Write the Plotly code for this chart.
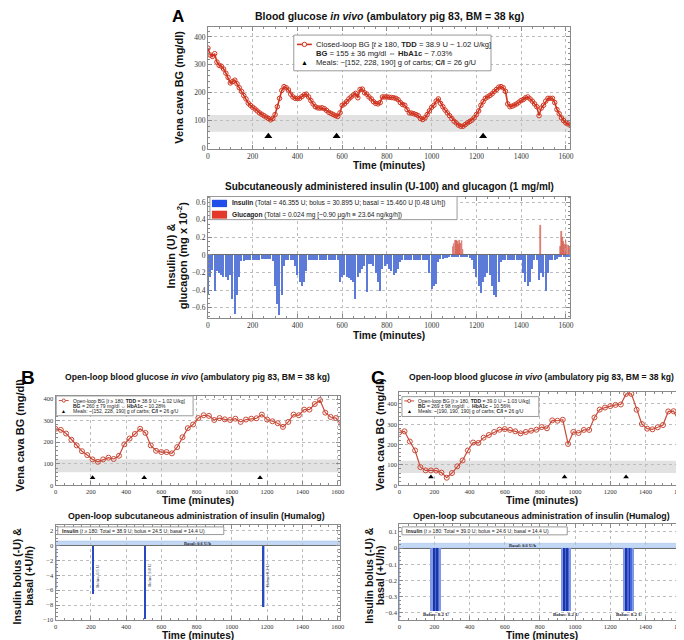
import plotly.graph_objects as go

W, H = 684, 640
def X(px): return px / W
def Y(py): return 1 - py / H

# ---------------- data ----------------
# Panel A: closed-loop BG (mg/dl), 10-min samples
t_A = list(range(0, 1621, 10))
bg_A = [360, 335, 330, 340, 310, 298, 295, 285, 270, 255, 235, 240, 245, 232, 218, 205,
        190, 178, 163, 155, 148, 142, 135, 128, 123, 118, 113, 108, 103, 108, 122, 150,
        180, 208, 222, 218, 210, 195, 185, 180, 180, 180, 186, 193, 195, 185, 172, 160,
        150, 146, 145, 146, 143, 137, 130, 126, 122, 118, 115, 128, 155, 160, 168, 178,
        185, 192, 198, 182, 212, 213, 200, 195, 185, 178, 168, 162, 160, 165, 185, 185,
        185, 184, 183, 182, 180, 175, 165, 158, 155, 140, 128, 127, 125, 122, 118, 108,
        104, 110, 122, 135, 148, 155, 170, 178, 162, 150, 138, 128, 118, 108, 98, 92,
        84, 80, 80, 86, 92, 97, 102, 110, 122, 135, 155, 168, 180, 185, 190, 196,
        205, 212, 220, 222, 218, 205, 160, 150, 152, 156, 160, 166, 172, 176, 182, 185,
        178, 170, 160, 150, 118, 145, 155, 170, 180, 180, 180, 165, 140, 125, 110, 100,
        92, 88, 83]
meals_A = [270, 575, 1230]

# Panel A: insulin (U, negative) per 10-min bin and glucagon pulses
ins_A = [-0.45, -0.25, -0.17, -0.40, -0.18, -0.20, -0.22, -0.24, -0.25, -0.28, -0.22, -0.50,
         -0.67, -0.45, -0.25, -0.06,
         -0.06, -0.05, -0.05, -0.05, -0.05, -0.05, -0.05, -0.05, -0.04, -0.04, -0.04, -0.04,
         -0.04, -0.06, -0.35, -0.55, -0.68, -0.45, -0.12, -0.05, -0.05, -0.05, -0.05, -0.12,
         -0.22, -0.30, -0.35, -0.30, -0.18, -0.05,
         -0.05, -0.05, -0.05, -0.05, -0.05, -0.05, -0.05, -0.05, -0.05, -0.05, -0.05, -0.05, -0.05,
         -0.30, -0.25, -0.22, -0.25, -0.26, -0.28, -0.30, -0.50, -0.25, -0.20, -0.15, -0.12,
         -0.42, -0.10, -0.10, -0.12, -0.20, -0.30, -0.40, -0.15, -0.12, -0.10, -0.15, -0.18,
         -0.22, -0.20, -0.15, -0.08,
         -0.05, -0.05, -0.05, -0.05, -0.05, -0.05, -0.05, -0.05, -0.05, -0.05, -0.05, -0.05,
         -0.20, -0.38, -0.35, -0.33, -0.08, -0.04, -0.04, -0.03, -0.03, -0.02,
         -0.01, -0.01, -0.01, -0.01, -0.01, -0.01, -0.01,
         -0.02, -0.03, -0.05, -0.15, -0.25, -0.35, -0.43, -0.30, -0.25, -0.20, -0.22, -0.35,
         -0.45, -0.47, -0.30, -0.08,
         -0.05, -0.05, -0.05, -0.05, -0.05, -0.05, -0.05, -0.05, -0.05,
         -0.20, -0.30, -0.35, -0.30, -0.15, -0.05, -0.05, -0.28, -0.20, -0.25, -0.40, -0.20,
         -0.05, -0.05, -0.05, -0.04,
         -0.02, -0.02, -0.02, -0.02, -0.02, -0.02]
t_glu = [1095, 1100, 1105, 1110, 1115, 1120, 1125, 1130, 1135, 1140, 1485,
         1575, 1580, 1585, 1590, 1595, 1600, 1605, 1610, 1615]
glu_A = [0.10, 0.13, 0.16, 0.17, 0.15, 0.12, 0.16, 0.13, 0.17, 0.06, 0.34,
         0.10, 0.27, 0.20, 0.15, 0.12, 0.16, 0.12, 0.11, 0.10]

# Panel B: open-loop BG every 30 min
t_B = list(range(0, 1621, 30))
bg_B = [262, 257, 240, 211, 185, 158, 140, 120, 109, 120, 128, 122, 137, 190, 217, 238,
        262, 243, 185, 160, 154, 154, 148, 177, 223, 265, 282, 312, 325, 322, 303, 312,
        306, 303, 309, 294, 305, 309, 311, 328, 305, 297, 288, 271, 294, 328, 325, 351,
        351, 377, 395, 337, 317, 312, 282]
meals_B = [210, 503, 1160]
bolus_B_t = [0, 210, 505, 1175]
bolus_B_u = [-5.8, -6.5, -9.8, -8.2]
bolus_B_lbl = ["", "Bolus: 6.5 U", "Bolus: 9.8 U", "Bolus: 8.2 U"]
basal_B = 0.6

# Panel C: open-loop BG every 30 min
t_C = list(range(0, 1621, 30))
bg_C = [260, 265, 215, 171, 89, 73, 73, 72, 62, 37, 60, 93, 122, 171, 210, 208,
        234, 247, 262, 273, 276, 272, 265, 255, 262, 268, 273, 286, 280, 319, 317, 322,
        203, 262, 257, 272, 272, 333, 372, 382, 389, 395, 397, 449, 449, 371, 301, 278,
        275, 285, 296, 363, 364, 317, 311]
meals_C = [180, 940, 1290]
bolus_C_start = [180, 920, 1275]
bolus_C_rate = [-0.39, -0.39, -0.39]
bolus_C_lbl = ["Bolus: 8.2 U", "Bolus: 8.2 U", "Bolus: 8.2 U"]
prebolus_C_t = [0]
prebolus_C_rate = [-0.46]
basal_C = 0.03

RED = '#d0341f'
fig = go.Figure()

# ---------------- traces ----------------
fig.add_trace(go.Scatter(x=t_A, y=bg_A, mode='lines+markers', xaxis='x', yaxis='y',
                         line=dict(color=RED, width=1.6),
                         marker=dict(symbol='circle-open', size=4.5, color=RED, line=dict(width=1))))
fig.add_trace(go.Scatter(x=meals_A, y=[44] * len(meals_A), mode='markers', xaxis='x', yaxis='y',
                         marker=dict(symbol='triangle-up', size=7, color='black')))

fig.add_trace(go.Bar(x=t_A, y=ins_A, width=6, xaxis='x2', yaxis='y2',
                     marker=dict(color='#5c7bd9', line=dict(width=0))))
fig.add_trace(go.Bar(x=t_glu, y=glu_A, width=3.5, xaxis='x2', yaxis='y2',
                     marker=dict(color='#e58b80', line=dict(color='#cc4a3c', width=0.5))))

fig.add_trace(go.Scatter(x=t_B, y=bg_B, mode='lines+markers', xaxis='x3', yaxis='y3',
                         line=dict(color='#c94a38', width=1.2),
                         marker=dict(symbol='circle-open', size=5, color='#c94a38', line=dict(width=1))))
fig.add_trace(go.Scatter(x=meals_B, y=[35] * len(meals_B), mode='markers', xaxis='x3', yaxis='y3',
                         marker=dict(symbol='triangle-up', size=5, color='black')))

fig.add_trace(go.Bar(x=bolus_B_t, y=bolus_B_u, width=16, xaxis='x4', yaxis='y4',
                     marker=dict(color='#a9bcee', line=dict(width=0))))
late_t = [t for t in bolus_B_t if t >= 180]
late_u = [u for t, u in zip(bolus_B_t, bolus_B_u) if t >= 180]
fig.add_trace(go.Bar(x=late_t, y=late_u, width=6, xaxis='x4', yaxis='y4',
                     marker=dict(color='#2a49c0', line=dict(width=0))))

fig.add_trace(go.Scatter(x=t_C, y=bg_C, mode='lines+markers', xaxis='x5', yaxis='y5',
                         line=dict(color='#c94a38', width=1.2),
                         marker=dict(symbol='circle-open', size=5, color='#c94a38', line=dict(width=1))))
fig.add_trace(go.Scatter(x=meals_C, y=[40] * len(meals_C), mode='markers', xaxis='x5', yaxis='y5',
                         marker=dict(symbol='triangle-up', size=5, color='black')))

fig.add_trace(go.Bar(x=prebolus_C_t, y=prebolus_C_rate, width=16, xaxis='x6', yaxis='y6',
                     marker=dict(color='#8ea6ec', line=dict(width=0))))
fig.add_trace(go.Bar(x=[s + 30 for s in bolus_C_start], y=bolus_C_rate, width=62, xaxis='x6', yaxis='y6',
                     marker=dict(color='#8098e6', line=dict(width=0))))
fig.add_trace(go.Bar(x=[s + 30 for s in bolus_C_start], y=bolus_C_rate, width=38, xaxis='x6', yaxis='y6',
                     marker=dict(color='#4a68d8', line=dict(width=0))))
for off in (17, 36):
    fig.add_trace(go.Bar(x=[s + off for s in bolus_C_start], y=bolus_C_rate, width=5, xaxis='x6', yaxis='y6',
                         marker=dict(color='#1b36a6', line=dict(width=0))))

# ---------------- axes ----------------
TICKFONT_A = dict(family='Liberation Serif', size=7.5, color='#333')
TICKFONT_B = dict(family='Liberation Serif', size=6.5, color='#333')

def axis(domain, anchor, rng, dtick, mdtick, font, zero=False):
    return dict(domain=domain, anchor=anchor, range=rng, dtick=dtick, tick0=0,
                showgrid=True, gridcolor='#bdbdbd', griddash='dot', gridwidth=0.8,
                showline=True, linecolor='#8a8a8a', linewidth=1, mirror='ticks',
                ticks='inside', ticklen=4, tickcolor='#8a8a8a', tickfont=font,
                ticklabeloverflow='allow',
                minor=dict(ticks='inside', ticklen=2, dtick=mdtick, tickcolor='#8a8a8a', showgrid=False),
                zeroline=zero, zerolinecolor='#6e6e6e', zerolinewidth=1.2, fixedrange=True)

xA = [X(200), X(565.7)]
xB = [X(46), X(333)]
xC = [X(393.3), X(680.7)]
fig.update_layout(
    xaxis=axis(xA, 'y', [0, 1618], 200, 50, TICKFONT_A),
    yaxis=axis([Y(141.7), Y(19)], 'x', [0, 436], 100, 20, TICKFONT_A),
    xaxis2=axis(xA, 'y2', [0, 1618], 200, 50, TICKFONT_A),
    yaxis2=axis([Y(312.7), Y(190)], 'x2', [-0.72, 0.665], 0.2, 0.05, TICKFONT_A, zero=True),
    xaxis3=axis(xB, 'y3', [0, 1611], 200, 50, TICKFONT_B),
    yaxis3=axis([Y(481), Y(390.7)], 'x3', [0, 416], 100, 20, TICKFONT_B),
    xaxis4=axis(xB, 'y4', [0, 1611], 200, 50, TICKFONT_B),
    yaxis4=axis([Y(616.7), Y(520.7)], 'x4', [-10, 2.8], 2, 0.5, TICKFONT_B, zero=True),
    xaxis5=axis(xC, 'y5', [0, 1618], 200, 50, TICKFONT_B),
    yaxis5=axis([Y(481), Y(386.7)], 'x5', [0, 460], 100, 20, TICKFONT_B),
    xaxis6=axis(xC, 'y6', [0, 1618], 200, 50, TICKFONT_B),
    yaxis6=axis([Y(616.7), Y(520)], 'x6', [-0.445, 0.15], 0.1, 0.025, TICKFONT_B, zero=True),
)

# ---------------- shapes ----------------
shapes = []
for xa, ya in (('x', 'y'), ('x3', 'y3'), ('x5', 'y5')):
    shapes.append(dict(type='rect', xref=xa + ' domain', yref=ya, x0=0, x1=1, y0=60, y1=120,
                       fillcolor='#e2e2e2', line=dict(width=0), layer='below'))
shapes.append(dict(type='rect', xref='x4 domain', yref='y4', x0=0, x1=1, y0=0, y1=basal_B,
                   fillcolor='#c3d8f4', line=dict(color='#9fbbe6', width=0.5), layer='below'))
shapes.append(dict(type='rect', xref='x6 domain', yref='y6', x0=0, x1=1, y0=0, y1=basal_C,
                   fillcolor='#c3d8f4', line=dict(color='#9fbbe6', width=0.5), layer='below'))

def box(x0, y0, x1, y1):
    shapes.append(dict(type='rect', xref='paper', yref='paper', x0=X(x0), x1=X(x1), y0=Y(y1), y1=Y(y0),
                       fillcolor='white', line=dict(color='#9a9a9a', width=1)))

def line_sample(x0, x1, y, color, w, msize):
    shapes.append(dict(type='line', xref='paper', yref='paper', x0=X(x0), x1=X(x1), y0=Y(y), y1=Y(y),
                       line=dict(color=color, width=w)))
    xc = (x0 + x1) / 2
    shapes.append(dict(type='circle', xref='paper', yref='paper', xsizemode='pixel', ysizemode='pixel',
                       xanchor=X(xc), yanchor=Y(y), x0=-msize, x1=msize, y0=-msize, y1=msize,
                       fillcolor='white', line=dict(color=color, width=1)))

def swatch(x0, y0, x1, y1, color):
    shapes.append(dict(type='rect', xref='paper', yref='paper', x0=X(x0), x1=X(x1), y0=Y(y1), y1=Y(y0),
                       fillcolor=color, line=dict(width=0)))

# legend A1
box(286.7, 27.3, 486, 63.3)
line_sample(290, 305, 36.7, RED, 1.6, 2.2)
# legend A2
box(202, 190, 451.7, 213.3)
swatch(204, 193.3, 219.3, 200.7, '#1f4fe8')
swatch(204, 204.3, 219.3, 212.3, '#e2392b')
# legend B1 / C1
box(46.7, 391, 185, 411)
line_sample(49.3, 59.3, 395.7, '#c94a38', 1, 1.6)
box(396, 391.7, 534.3, 411.7)
line_sample(398.3, 408.3, 396, '#c94a38', 1, 1.6)
# legend B2 / C2
box(48.3, 523, 216, 530.7)
box(396, 523, 563, 531)

fig.update_layout(shapes=shapes)

# ---------------- annotations ----------------
ann = []
def txt(x, y, s, size, xanchor='center', family='Liberation Sans', color='#111', angle=0):
    ann.append(dict(x=X(x), y=Y(y), xref='paper', yref='paper', text=s, showarrow=False,
                    xanchor=xanchor, yanchor='middle', textangle=angle,
                    font=dict(family=family, size=size, color=color)))

# panel letters
txt(170, 9, '<b>A</b>', 17, color='black')
txt(18, 372, '<b>B</b>', 19, color='black')
txt(372, 372, '<b>C</b>', 19, color='black')

# titles
txt(383, 8, '<b>Blood glucose <i>in vivo</i> (ambulatory pig 83, BM = 38 kg)</b>', 10.5)
txt(383, 179.5, '<b>Subcutaneously administered insulin (U-100) and glucagon (1 mg/ml)</b>', 10)
txt(189, 372, '<b>Open-loop blood glucose <i>in vivo</i> (ambulatory pig 83, BM = 38 kg)</b>', 8.6)
txt(537, 372, '<b>Open-loop blood glucose <i>in vivo</i> (ambulatory pig 83, BM = 38 kg)</b>', 8.6)
txt(188, 512.5, '<b>Open-loop subcutaneous administration of insulin (Humalog)</b>', 8.8)
txt(537, 512.5, '<b>Open-loop subcutaneous administration of insulin (Humalog)</b>', 8.8)

# axis titles
for xc, y in ((383, 158.5), (383, 330.5), (189.5, 496.5), (189.5, 632.5), (537, 496.5), (537, 632.5)):
    txt(xc, y, '<b>Time (minutes)</b>', 10.2)
txt(171, 80, '<b>Vena cava BG (mg/dl)</b>', 11, angle=-90)
txt(163, 250, '<b>Insulin (U) &amp;</b>', 11, angle=-90)
txt(174, 250, '<b>glucagon (mg x 10<sup>-2</sup>)</b>', 11, angle=-90)
txt(10, 430, '<b>Vena cava BG (mg/dl)</b>', 11, angle=-90)
txt(373, 430, '<b>Vena cava BG (mg/dl)</b>', 11, angle=-90)
txt(7, 572, '<b>Insulin bolus (-U) &amp;</b>', 10.5, angle=-90)
txt(18.5, 572, '<b>basal (+U/h)</b>', 10.5, angle=-90)
txt(362, 572, '<b>Insulin bolus (-U) &amp;</b>', 10.5, angle=-90)
txt(373.5, 572, '<b>basal (+U/h)</b>', 10.5, angle=-90)

# legend texts A1
txt(307.3, 36.7, 'Closed-loop BG [<i>t</i> ≥ 180, <b>TDD</b> = 38.9 U ~ 1.02 U/kg]', 7.6, xanchor='left', color='#222')
txt(307.3, 46, '<b>BG</b> = 155 ± 36 mg/dl ⇔ <b>HbA1c</b> ~ 7.03%', 7.6, xanchor='left', color='#222')
txt(307.3, 55.2, 'Meals: ~[152, 228, 190] g of carbs; <b>C/I</b> = 26 g/U', 7.6, xanchor='left', color='#222')
txt(297.5, 55, '▲', 7, color='black')
# legend A2
txt(222.3, 197, '<b>Insulin</b> (Total = 46.355 U; bolus = 30.895 U; basal = 15.460 U [0.48 U/h])', 6.6, xanchor='left', color='#222')
txt(222.3, 208.3, '<b>Glucagon</b> (Total = 0.024 mg [~0.90 μg/h ≡ 23.64 ng/kg/h])', 6.6, xanchor='left', color='#222')
# legend B1
txt(61.7, 395.7, 'Open-loop BG [<i>t</i> ≥ 180, <b>TDD</b> = 38.9 U ~ 1.02 U/kg]', 5, xanchor='left', color='#222')
txt(61.7, 400.8, '<b>BG</b> = 260 ± 79 mg/dl ⇔ <b>HbA1c</b> ~ 10.28%', 5, xanchor='left', color='#222')
txt(61.7, 405.8, 'Meals: ~[152, 228, 190] g of carbs; <b>C/I</b> = 26 g/U', 5, xanchor='left', color='#222')
txt(54.3, 405.7, '▲', 5, color='black')
# legend C1
txt(410, 396, 'Open-loop BG [<i>t</i> ≥ 180, <b>TDD</b> = 39.0 U ~ 1.03 U/kg]', 5, xanchor='left', color='#222')
txt(410, 401.2, '<b>BG</b> = 269 ± 98 mg/dl ⇔ <b>HbA1c</b> ~ 10.56%', 5, xanchor='left', color='#222')
txt(410, 406.4, 'Meals: ~[190, 190, 190] g of carbs; <b>C/I</b> = 26 g/U', 5, xanchor='left', color='#222')
txt(403.3, 406.3, '▲', 5, color='black')
# legend B2 / C2
txt(50.5, 527, '<b>Insulin</b> (<i>t</i> ≥ 180: Total = 38.9 U; bolus = 24.5 U; basal = 14.4 U)', 5.1, xanchor='left', color='#222')
txt(398.5, 527, '<b>Insulin</b> (<i>t</i> ≥ 180: Total = 39.0 U; bolus = 24.6 U; basal = 14.4 U)', 5.1, xanchor='left', color='#222')

fig.update_layout(annotations=ann)

# data-positioned labels (basal / bolus)
fig.add_annotation(x=805, y=basal_B / 2, xref='x4', yref='y4', text='<b>Basal: 0.6 U/h</b>', showarrow=False,
                   font=dict(family='Liberation Serif', size=4.5, color='#223'))
fig.add_annotation(x=700, y=basal_C / 2, xref='x6', yref='y6', text='<b>Basal: 0.6 U/h</b>', showarrow=False,
                   font=dict(family='Liberation Serif', size=4.5, color='#223'))
for t, u, lbl in zip(bolus_B_t, bolus_B_u, bolus_B_lbl):
    if lbl:
        fig.add_annotation(x=t + 28, y=-4, xref='x4', yref='y4', text=lbl, showarrow=False, textangle=-90,
                           font=dict(family='Liberation Serif', size=4.5, color='#223'))
for s, r, lbl in zip(bolus_C_start, bolus_C_rate, bolus_C_lbl):
    fig.add_annotation(x=s + 30, y=r - 0.02, xref='x6', yref='y6', text='<b>' + lbl + '</b>', showarrow=False,
                       font=dict(family='Liberation Serif', size=5, color='#223'))

fig.update_layout(width=W, height=H, margin=dict(l=0, r=0, t=0, b=0),
                  paper_bgcolor='white', plot_bgcolor='white', showlegend=False,
                  barmode='overlay', bargap=0)

fig.write_html("out.html")
